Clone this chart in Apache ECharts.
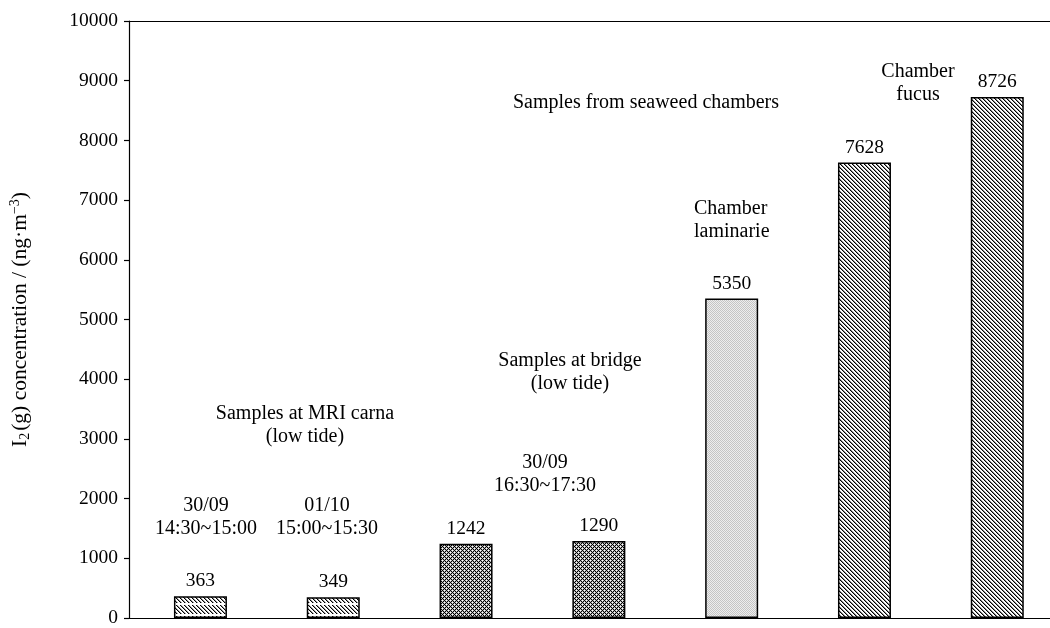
<!DOCTYPE html>
<html>
<head>
<meta charset="utf-8">
<script src="https://cdn.jsdelivr.net/npm/echarts@6/dist/echarts.min.js"></script>
<style>
  html, body { margin: 0; padding: 0; background: #fff; }
  #chart { width: 1050px; height: 628px; }
</style>
</head>
<body>
<div id="chart"></div>
<script>
// Gaseous iodine measured at each sampling site (ng per cubic metre)
const samples = [
  'MRI carna 30/09', 'MRI carna 01/10',
  'Bridge 30/09 (1)', 'Bridge 30/09 (2)',
  'Chamber laminarie',
  'Chamber fucus (1)', 'Chamber fucus (2)'
];
const concentrations = [363, 349, 1242, 1290, 5350, 7628, 8726];
const fillKinds = ['dashHatch', 'dashHatch', 'cross', 'cross', 'dots', 'hatch', 'hatch'];

// Free-standing annotation blocks
const noteSeaweed = 'Samples from seaweed chambers';
const noteFucus = 'Chamber\nfucus';
const noteLaminarie = 'Chamber\nlaminarie';
const noteBridge = 'Samples at bridge\n(low tide)';
const noteBridgeTime = '30/09\n16:30~17:30';
const noteCarna = 'Samples at MRI carna\n(low tide)';
const noteCarnaTime1 = '30/09\n14:30~15:00';
const noteCarnaTime2 = '01/10\n15:00~15:30';

const FONT = '"Liberation Serif", "Times New Roman", serif';

// Small pixel tiles used as bar fills
function tile(w, h, fn) {
  const c = document.createElement('canvas');
  c.width = w; c.height = h;
  const ctx = c.getContext('2d');
  ctx.fillStyle = '#fff';
  ctx.fillRect(0, 0, w, h);
  for (let y = 0; y < h; y++) {
    for (let x = 0; x < w; x++) {
      const col = fn(x, y);
      if (col) { ctx.fillStyle = col; ctx.fillRect(x, y, 1, 1); }
    }
  }
  return c;
}
const mod = (a, n) => ((a % n) + n) % n;
const tiles = {
  hatch: tile(4, 4, (x, y) => {
    const d = mod(x - y, 4);
    return d === 0 ? '#000' : d === 1 ? '#8a8a8a' : null;
  }),
  dashHatch: tile(4, 11, (x, y) => {
    if (y >= 9) return null;
    const d = mod(x - y, 4);
    return d === 0 ? '#000' : d === 1 ? '#9a9a9a' : null;
  }),
  cross: tile(4, 4, (x, y) => {
    const a = mod(x + y, 4), b = mod(x - y, 4);
    if (a === 0 || b === 0) return '#000';
    if (a === 2 && b === 2) return null;
    return '#b8b8b8';
  }),
  dots: tile(2, 2, (x, y) => (mod(x + y, 2) === 0 ? '#c4c4c4' : '#ededed'))
};

const barData = concentrations.map((v, i) => ({
  value: [i, v],
  itemStyle: { color: { image: tiles[fillKinds[i]], repeat: 'repeat' } }
}));

const chart = echarts.init(document.getElementById('chart'), null, { renderer: 'canvas' });

function note(text, x, y, align) {
  return {
    type: 'text',
    x: x, y: y,
    silent: true,
    style: {
      text: text,
      fill: '#000',
      font: '20px ' + FONT,
      align: align || 'center',
      verticalAlign: 'middle',
      lineHeight: 23
    }
  };
}

const xRange = { min: -0.538, max: 6.397 };

chart.setOption({
  animation: false,
  backgroundColor: '#fff',
  grid: { left: 129, right: 0, top: 21, bottom: 6, containLabel: false },
  xAxis: [
    {
      type: 'value', position: 'bottom', min: xRange.min, max: xRange.max,
      axisLine: { show: true, onZero: false, lineStyle: { color: '#000', width: 1.2 } },
      axisTick: { show: false }, axisLabel: { show: false }, splitLine: { show: false }
    },
    {
      type: 'value', position: 'top', min: xRange.min, max: xRange.max,
      axisLine: { show: true, onZero: false, lineStyle: { color: '#000', width: 1.2 } },
      axisTick: { show: false }, axisLabel: { show: false }, splitLine: { show: false }
    }
  ],
  yAxis: {
    type: 'value', min: 0, max: 10000, interval: 1000,
    axisLine: { show: true, onZero: false, lineStyle: { color: '#000', width: 1.2 } },
    axisTick: { show: true, inside: false, length: 5, lineStyle: { color: '#000', width: 1.2 } },
    axisLabel: {
      color: '#000', fontFamily: FONT, fontSize: 19.5, margin: 11,
      formatter: v => String(v)
    },
    splitLine: { show: false },
    name: '{a|I}{s|2}{a|(g) concentration / (ng·m}{p|−3}{a|)}',
    nameLocation: 'middle',
    nameRotate: 90,
    nameGap: 97,
    nameTextStyle: {
      color: '#000', fontFamily: FONT, fontSize: 21.5,
      rich: {
        a: { color: '#000', fontFamily: FONT, fontSize: 21.5 },
        s: { color: '#000', fontFamily: FONT, fontSize: 14, padding: [10, 2, 0, 0] },
        p: { color: '#000', fontFamily: FONT, fontSize: 14, padding: [0, 0, 10, 0] }
      }
    }
  },
  series: [{
    type: 'bar',
    name: 'I2 concentration',
    xAxisIndex: 0,
    barWidth: 53,
    data: barData,
    itemStyle: { borderColor: '#000', borderWidth: 1.5 },
    label: {
      show: true, position: 'top', distance: 5,
      color: '#000', fontFamily: FONT, fontSize: 19.5,
      formatter: p => String(p.value[1])
    }
  }],
  graphic: [
    note(noteSeaweed, 646, 103),
    note(noteFucus, 918, 83),
    note(noteLaminarie, 694, 220, 'left'),
    note(noteBridge, 570, 372),
    note(noteBridgeTime, 545, 474),
    note(noteCarna, 305, 425),
    note(noteCarnaTime1, 206, 517),
    note(noteCarnaTime2, 327, 517)
  ]
});
</script>
</body>
</html>
